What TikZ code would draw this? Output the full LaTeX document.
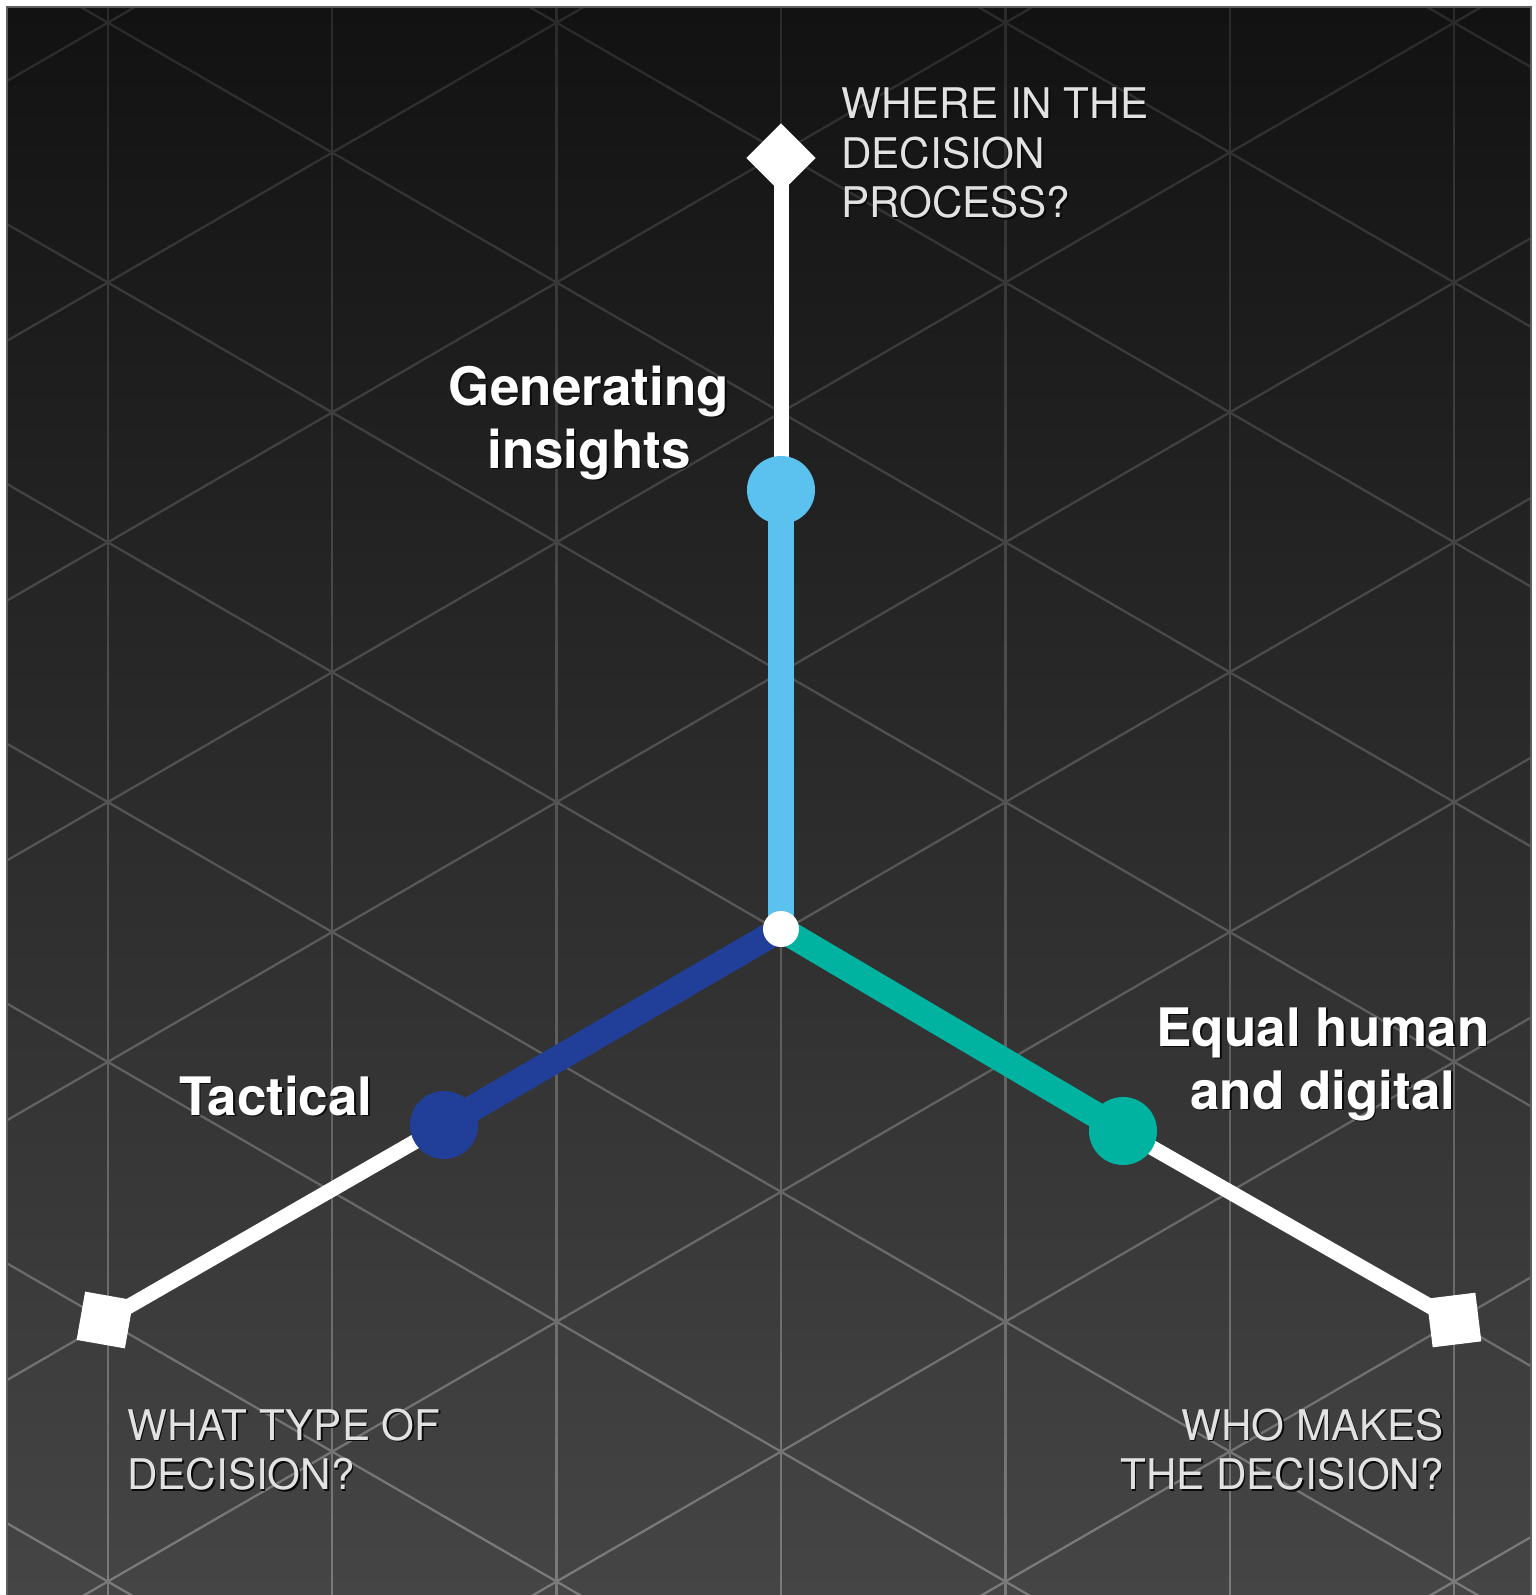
\documentclass[tikz,border=0pt]{standalone}
\usepackage{fontspec}
\setmainfont{TeX Gyre Heros}
\usetikzlibrary{calc}
\definecolor{bgtop}{HTML}{121212}
\definecolor{bgbot}{HTML}{454545}
\definecolor{gridtop}{HTML}{2A2A2A}
\definecolor{gridbot}{HTML}{7C7C7C}
\definecolor{lbluec}{HTML}{5BC1EE}
\definecolor{dbluec}{HTML}{213F99}
\definecolor{tealc}{HTML}{00B3A1}
\definecolor{labelgray}{HTML}{E2E2E2}
\definecolor{shadowc}{HTML}{0A0A0A}
\definecolor{framec}{HTML}{5E5E5E}
\newcommand\shd[1]{\makebox[0pt][l]{\hspace{1.6pt}\raisebox{-1.8pt}{\textcolor{shadowc}{#1}}}#1}
\pgfdeclarelayer{back}
\pgfdeclarelayer{lines}
\pgfsetlayers{back,lines,main}
\tikzset{
  gridline/.style={line width=2.3pt, draw=gc},
  wline/.style={line width=15pt, draw=white},
  cline/.style={line width=26pt},
  dotc/.style={circle, inner sep=0pt, minimum size=68pt, draw=none},
  marker/.style={rectangle, inner sep=0pt, minimum size=49pt, fill=white, draw=none},
  glabel/.style={inner sep=0pt, text=labelgray, font=\fontsize{42.2}{49.7}\selectfont},
  blabel/.style={inner sep=0pt, text=white, font=\fontsize{53}{63}\selectfont\bfseries},
}
\begin{document}
\begin{tikzpicture}[x=1pt,y=-1pt]
\useasboundingbox (0,0) rectangle (1535,1595);
\begin{pgfonlayer}{back}
\fill[white] (0,0) rectangle (1535,1595);
\shade[top color=bgtop, bottom color=bgbot] (7,7) rectangle (1531,1595);
\begin{scope}
\clip (7,7) rectangle (1531,1595);
\foreach \i in {0,...,39}{
  \pgfmathsetmacro\ya{7+\i*39.725}
  \pgfmathsetmacro\yb{\ya+39.8}
  \pgfmathtruncatemacro\pc{(\i+0.5)*2.5}
  \begin{scope}
    \clip (0,\ya) rectangle (1535,\yb);
    \colorlet{gc}{gridbot!\pc!gridtop}
    \foreach \x in {107.8,332.2,556.6,781,1005.4,1229.8,1454.2}
      \draw[gridline] (\x,0) -- (\x,1595);
    \foreach \n in {-7,...,7}{
      \draw[gridline] (0,{479.9+\n*259.8}) -- (1535,{1368.5+\n*259.8});
      \draw[gridline] (0,{1384.1+\n*259.8}) -- (1535,{495.5+\n*259.8});
    }
  \end{scope}
}
\end{scope}
\draw[framec, line width=1.4pt] (7,1595) -- (7,7) -- (1531,7) -- (1531,1595);
\end{pgfonlayer}

% markers and dots
\node[marker, rotate=45] (top) at (781,158) {};
\node[marker, rotate=-10] (lft) at (105,1320) {};
\node[marker, rotate=7] (rgt) at (1454,1320) {};
\node[dotc, fill=lbluec] (lb) at (781,490) {};
\node[dotc, fill=dbluec] (db) at (444,1125) {};
\node[dotc, fill=tealc] (tl) at (1123,1131) {};
\node[dotc, fill=white, minimum size=36pt] (c) at (781,929) {};

\begin{pgfonlayer}{lines}
\draw[wline] (lb.center) -- (top.center);
\draw[wline] (db.center) -- (lft.center);
\draw[wline] (tl.center) -- (rgt.center);
\draw[cline, draw=tealc] (c.center) -- (tl.center);
\draw[cline, draw=dbluec] (c.center) -- (db.center);
\draw[cline, draw=lbluec] (c.center) -- (lb.center);
\end{pgfonlayer}

% labels
\node[glabel, anchor=base west] (qtop) at (841,118.3)
  {\begin{tabular}[t]{@{}l@{}}\shd{WHERE IN THE}\\\shd{DECISION}\\\shd{PROCESS?}\end{tabular}};
\node[glabel, anchor=base west] (qleft) at (127,1440)
  {\begin{tabular}[t]{@{}l@{}}\shd{WHAT TYPE OF}\\\shd{DECISION?}\end{tabular}};
\node[glabel, anchor=base east] (qright) at (1444,1440)
  {\begin{tabular}[t]{@{}r@{}}\shd{WHO MAKES}\\\shd{THE DECISION?}\end{tabular}};
\node[blabel, anchor=base] (gen) at (589,405)
  {\begin{tabular}[t]{@{}c@{}}\shd{Generating}\\\shd{insights}\end{tabular}};
\node[blabel, anchor=base west] (tac) at (179,1115) {\shd{Tactical}};
\node[blabel, anchor=base] (eq) at (1323,1046)
  {\begin{tabular}[t]{@{}c@{}}\shd{Equal human}\\\shd{and digital}\end{tabular}};
\end{tikzpicture}
\end{document}
